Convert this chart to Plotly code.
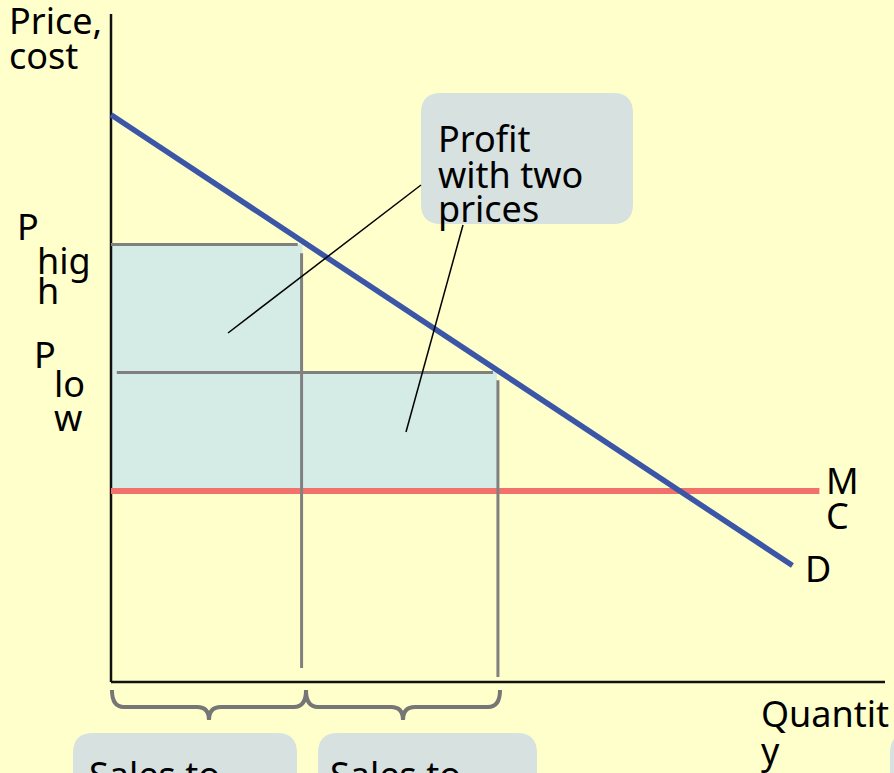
import plotly.graph_objects as go

W, H = 894, 773

# ---- data (economic units: quantity, price) ----
demand_q = [0, 35.4]
demand_p = [29.7, 6.1]
mc_q = [0, 36.8]
mc_p = [10.0, 10.0]
q_high, q_low = 9.9, 20.1
p_high, p_low = 22.9, 16.2
mc_level = 10.0

# label texts
price_label = ["Price,", "cost"]
qty_label = ["Quantit", "y"]
p_high_label = ["P", "hig", "h"]
p_low_label = ["P", "lo", "w"]
mc_label = ["M", "C"]
d_label = ["D"]
callout_label = ["Profit", "with two", "prices"]
sales_label = ["Sales to", "Sales to"]

# ---- layout mapping (pixel frame -> data units) ----
OX, OY = 111, 682
SX, SY = 19.25, 19.1
def ux(px):
    return (px - OX) / SX
def uy(py):
    return (OY - py) / SY

BG = "#FFFFCC"
BLUE = "#3B56A7"
RED = "#F2716C"
SHADE = "#D5ECE6"
BOX = "#D7E1E0"
GRAY = "#808080"
FONT = "Noto Sans"

fig = go.Figure()

def line(xs, ys, color, width):
    fig.add_trace(go.Scatter(x=xs, y=ys, mode="lines",
                             line=dict(color=color, width=width),
                             hoverinfo="skip", showlegend=False))

# axes
line([0, 0], [0, uy(14)], "#111111", 2.5)
line([0, ux(885)], [0, 0], "#111111", 2.5)

# MC
line(mc_q, mc_p, RED, 6)

# gray guide lines
line([0, q_high - 0.2], [p_high, p_high], GRAY, 3)
line([q_high, q_high], [p_high - 0.45, uy(668)], GRAY, 3)
line([0.3, q_low - 0.25], [p_low, p_low], GRAY, 3)
line([q_low, q_low], [p_low - 0.4, uy(677)], GRAY, 3)

# demand
line(demand_q, demand_p, BLUE, 5.5)

# callout pointers
line([ux(421), ux(228)], [uy(185), uy(333)], "#000000", 1.5)
line([ux(463), ux(406)], [uy(225), uy(432)], "#000000", 1.5)

shapes = []
# profit rectangles
shapes.append(dict(type="rect", xref="x", yref="y", x0=0, x1=q_high + 0.05,
                   y0=mc_level, y1=p_high, fillcolor=SHADE, line=dict(width=0), layer="below"))
shapes.append(dict(type="rect", xref="x", yref="y", x0=q_high, x1=q_low - 0.05,
                   y0=mc_level, y1=p_low, fillcolor=SHADE, line=dict(width=0), layer="below"))

def rrect(x0, y0, x1, y1, rx, ry):
    return (f"M {x0+rx},{y0} L {x1-rx},{y0} Q {x1},{y0} {x1},{y0+ry} "
            f"L {x1},{y1-ry} Q {x1},{y1} {x1-rx},{y1} L {x0+rx},{y1} "
            f"Q {x0},{y1} {x0},{y1-ry} L {x0},{y0+ry} Q {x0},{y0} {x0+rx},{y0} Z")

rx, ry = 20 / SX, 20 / SY
# callout box
shapes.append(dict(type="path", xref="x", yref="y",
                   path=rrect(ux(421), uy(224), ux(633), uy(93), rx, ry),
                   fillcolor=BOX, line=dict(width=0), layer="below"))
# bottom boxes
for bx0, bx1 in [(73, 297), (318, 537), (890, 1100)]:
    shapes.append(dict(type="path", xref="x", yref="y",
                       path=rrect(ux(bx0), uy(830), ux(bx1), uy(733), rx, ry),
                       fillcolor=BOX, line=dict(width=0), layer="below"))

def brace(xl, xr, ytop, ymid, ytip, r):
    xm = (xl + xr) / 2
    return (f"M {xl},{ytop} Q {xl},{ymid} {xl+r},{ymid} L {xm-r},{ymid} "
            f"Q {xm},{ymid} {xm},{ytip} Q {xm},{ymid} {xm+r},{ymid} "
            f"L {xr-r},{ymid} Q {xr},{ymid} {xr},{ytop}")

for xl, xr in [(0.05, ux(306)), (ux(306), ux(500))]:
    shapes.append(dict(type="path", xref="x", yref="y",
                       path=brace(xl, xr, uy(690), uy(707), uy(720), 12 / SX),
                       line=dict(color="#767676", width=4), layer="above"))

annotations = []
def lab(text, px, base_py, size=36):
    cy = base_py - 0.388 * size
    annotations.append(dict(xref="paper", yref="paper", x=(px - 3) / W, y=1 - cy / H,
                            xanchor="left", yanchor="middle", text=text, showarrow=False,
                            font=dict(family=FONT, size=size, color="#000000")))

lab(price_label[0], 10, 34)
lab(price_label[1], 10, 69)
lab(p_high_label[0], 18, 240)
lab(p_high_label[1], 38, 274)
lab(p_high_label[2], 38, 304)
lab(p_low_label[0], 35, 368)
lab(p_low_label[1], 55, 397)
lab(p_low_label[2], 55, 431)
lab(callout_label[0], 439, 152)
lab(callout_label[1], 439, 188)
lab(callout_label[2], 439, 222)
lab(mc_label[0], 827, 494)
lab(mc_label[1], 827, 529)
lab(d_label[0], 806, 582)
lab(qty_label[0], 762, 727)
lab(qty_label[1], 762, 764)
lab(sales_label[0], 90, 788)
lab(sales_label[1], 331, 788)

fig.update_layout(
    width=W, height=H, autosize=False,
    margin=dict(l=0, r=0, t=0, b=0, pad=0),
    paper_bgcolor=BG, plot_bgcolor=BG,
    xaxis=dict(visible=False, range=[ux(0), ux(W)], fixedrange=True),
    yaxis=dict(visible=False, range=[uy(H), uy(0)], fixedrange=True),
    shapes=shapes, annotations=annotations, showlegend=False,
)

fig.write_html("out.html", config={"displayModeBar": False},
               post_script="document.body.style.margin='0';document.body.style.background='" + BG + "';document.body.style.overflow='hidden';")
